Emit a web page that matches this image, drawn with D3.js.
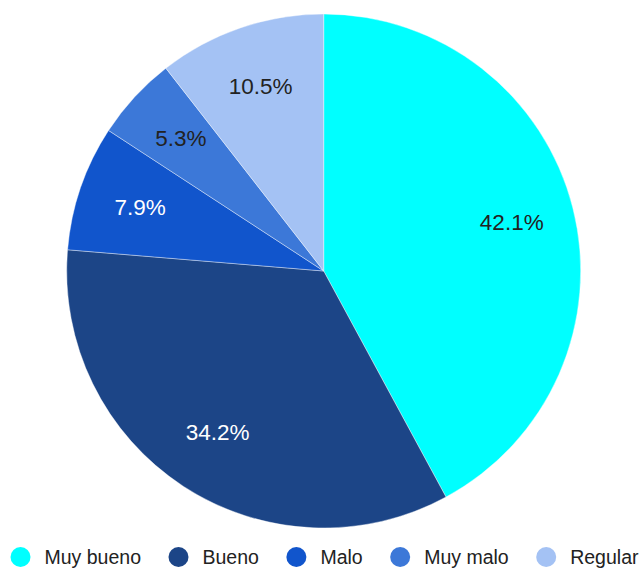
<!DOCTYPE html>
<html>
<head>
<meta charset="utf-8">
<script src="https://cdn.jsdelivr.net/npm/d3@7"></script>
<style>
  html, body { margin: 0; padding: 0; background: #fff; }
  svg { display: block; }
  text { font-family: "Liberation Sans", Arial, sans-serif; }
</style>
</head>
<body>
<svg id="chart" width="642" height="568"></svg>
<script>
const categories = ["Muy bueno", "Bueno", "Malo", "Muy malo", "Regular"];
const values = [16, 13, 3, 2, 4];
const colors = ["#00FFFF", "#1C4587", "#1155CC", "#3C78D8", "#A4C2F4"];
const labelColors = ["#222222", "#FFFFFF", "#FFFFFF", "#222222", "#222222"];

const data = categories.map((c, i) => ({ name: c, value: values[i], color: colors[i], lc: labelColors[i] }));
const total = d3.sum(values);

const svg = d3.select("#chart");
const cx = 323.7, cy = 271, R = 257;
const g = svg.append("g").attr("transform", `translate(${cx},${cy})`);

const pie = d3.pie().value(d => d.value).sort(null);
const arc = d3.arc().innerRadius(0).outerRadius(R);
const labelArc = d3.arc().innerRadius(194).outerRadius(194);

const arcs = pie(data);
g.selectAll("path.slice").data(arcs).join("path")
  .attr("class", "slice")
  .attr("d", arc)
  .attr("fill", d => d.data.color)
  .attr("stroke", "#ffffff")
  .attr("stroke-width", 0.4);

g.selectAll("text.lbl").data(arcs).join("text")
  .attr("class", "lbl")
  .attr("transform", d => `translate(${labelArc.centroid(d)})`)
  .attr("text-anchor", "middle")
  .attr("dy", "0.3em")
  .attr("font-size", "22.5px")
  .attr("fill", d => d.data.lc)
  .text(d => d3.format(".1%")(d.data.value / total));

// Legend
const legend = svg.append("g");
const items = legend.selectAll("g").data(data).join("g");
items.append("circle").attr("r", 10).attr("fill", d => d.color);
items.append("text").attr("x", 24).attr("y", 7).attr("font-size", "19.5px").attr("fill", "#222")
  .text(d => d.name);
let x = 0;
const pos = [];
items.each(function(d, i) {
  const w = d3.select(this).select("text").node().getComputedTextLength();
  pos.push(x);
  x += 24 + w + 37.5;
});
const totalW = x - 37.5 + 10;
const startX = (649 - totalW) / 2 + 10;
items.attr("transform", (d, i) => `translate(${startX + pos[i]},557)`);
</script>
</body>
</html>
